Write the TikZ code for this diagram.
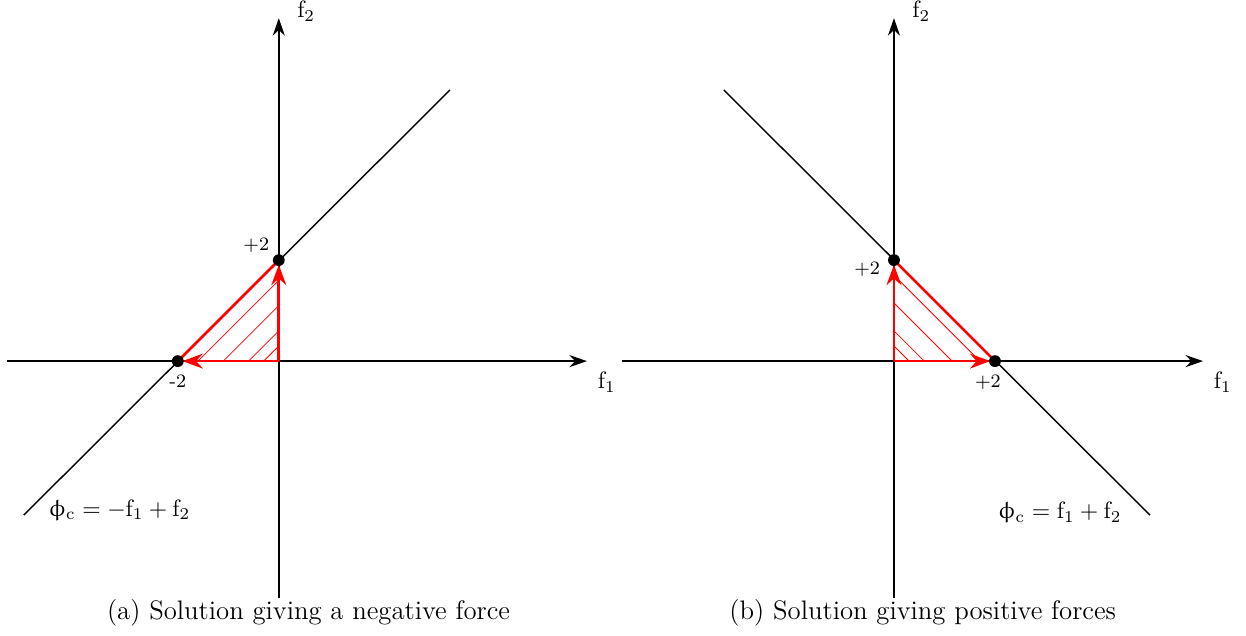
\documentclass[tikz,border=0pt]{standalone}
\usepackage{upgreek}
\usetikzlibrary{positioning,arrows.meta,calc}
\tikzset{
  axis/.style={-{Stealth[length=2.6mm,width=1.8mm]}, line width=0.6pt, black},
  guide/.style={line width=0.6pt, black},
  bound/.style={line width=1.1pt, red},
  force/.style={-{Stealth[length=3mm,width=2.2mm]}, line width=1.1pt, red, shorten >=2pt},
  hatch/.style={line width=0.35pt, red},
  dot/.style={circle, fill=black, inner sep=0pt, minimum size=5pt},
  numlabel/.style={font=\footnotesize, inner sep=1pt},
  captext/.style={font=\fontsize{11.3}{13}\selectfont, inner sep=0pt}
}

\begin{document}
\begin{tikzpicture}[x=0.75cm, y=0.75cm]
  \useasboundingbox (-5.52,-5.43) rectangle (19.15,7.15);

  % (a) negative force
  \coordinate (oa) at (0,0);
  \coordinate (xa0) at (-5.39,0);
  \coordinate (xa1) at (6.10,0);
  \coordinate (ya0) at (0,-4.69);
  \coordinate (ya1) at (0,6.79);
  \coordinate (pa) at (0,2);
  \coordinate (qa) at (-2,0);
  \coordinate (la0) at (-5.05,-3.05);
  \coordinate (la1) at (3.39,5.37);
  \draw[axis] (xa0) -- (xa1);
  \draw[axis] (ya0) -- (ya1);
  \draw[guide] (la0) -- (la1);
  \foreach \c in {0.3,0.6,1.1,1.6}
    \draw[hatch] (-\c,0) -- (0,\c);
  \draw[bound] (qa) -- (pa);
  \draw[force] (oa) -- (qa);
  \draw[force] (oa) -- (pa);
  \node[dot] (pta) at (pa) {};
  \node[dot] (qta) at (qa) {};
  \node[numlabel, above left=0pt and 1pt of pta] {+2};
  \node[numlabel, below=2pt of qta] {-2};
  \node[anchor=west, yshift=3pt] at ($(ya1)+(0.2,0)$) {$\mathrm{f}_2$};
  \node[anchor=north west] at ($(xa1)+(0.05,-0.05)$) {$\mathrm{f}_1$};
  \node[right=0.25cm of la0, yshift=2pt] {$\upphi_\mathrm{c} = -\mathrm{f}_1 + \mathrm{f}_2$};
  \node[captext] (capa) at (0.59,-4.99) {(a) Solution giving a negative force};

  % (b) positive forces
  \begin{scope}[shift={(12.18,0)}]
    \coordinate (ob) at (0,0);
    \coordinate (xb0) at (-5.39,0);
    \coordinate (xb1) at (6.12,0);
    \coordinate (yb0) at (0,-4.69);
    \coordinate (yb1) at (0,6.79);
    \coordinate (pb) at (0,2);
    \coordinate (qb) at (2,0);
    \coordinate (lb0) at (5.07,-3.05);
    \coordinate (lb1) at (-3.37,5.37);
    \draw[axis] (xb0) -- (xb1);
    \draw[axis] (yb0) -- (yb1);
    \draw[guide] (lb1) -- (lb0);
    \foreach \c in {0.3,0.6,1.15,1.7}
      \draw[hatch] (0,\c) -- (\c,0);
    \draw[bound] (pb) -- (qb);
    \draw[force] (ob) -- (qb);
    \draw[force] (ob) -- (pb);
    \node[dot] (ptb) at (pb) {};
    \node[dot] (qtb) at (qb) {};
    \node[numlabel, left=2pt of ptb, yshift=-4pt] {+2};
    \node[numlabel, below=2pt of qtb, xshift=-3pt] {+2};
    \node[anchor=west, yshift=3pt] at ($(yb1)+(0.2,0)$) {$\mathrm{f}_2$};
    \node[anchor=north west] at ($(xb1)+(0.05,-0.05)$) {$\mathrm{f}_1$};
    \node[left=0.3cm of lb0, yshift=1pt] {$\upphi_\mathrm{c} = \mathrm{f}_1 + \mathrm{f}_2$};
    \node[captext] (capb) at (0.57,-4.99) {(b) Solution giving positive forces};
  \end{scope}
\end{tikzpicture}
\end{document}
